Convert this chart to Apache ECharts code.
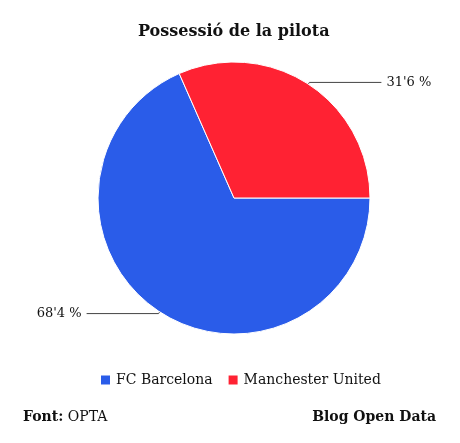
<!DOCTYPE html>
<html>
<head>
<meta charset="utf-8">
<script src="https://cdn.jsdelivr.net/npm/echarts@6/dist/echarts.min.js"></script>
<style>
  html, body { margin: 0; padding: 0; background: #fff; }
  #chart { width: 460px; height: 443px; }
</style>
</head>
<body>
<div id="chart"></div>
<script>
// Possessió de la pilota (OPTA)
const teams = ['FC Barcelona', 'Manchester United'];
const possession = [68.4, 31.6];
const teamColors = ['#2a5ce9', '#ff2233'];

const serif = 'DejaVu Serif, Georgia, serif';

let chart = echarts.init(document.getElementById('chart'));

chart.setOption({
  color: teamColors,
  title: {
    text: 'Possessió de la pilota',
    left: 133,
    top: 19,
    textStyle: {
      fontFamily: serif,
      fontSize: 16,
      fontWeight: 'bold',
      color: '#111'
    }
  },
  legend: {
    bottom: 51,
    left: 94,
    itemWidth: 11,
    itemHeight: 11,
    itemGap: 14,
    icon: 'rect',
    textStyle: {
      fontFamily: serif,
      fontSize: 14,
      color: '#111'
    }
  },
  graphic: [
    {
      type: 'text',
      left: 23,
      top: 410,
      style: {
        text: '{b|Font:} OPTA',
        fontFamily: serif,
        fontSize: 14,
        fill: '#111',
        rich: { b: { fontFamily: serif, fontSize: 14, fontWeight: 'bold', fill: '#111' } }
      }
    },
    {
      type: 'text',
      right: 24,
      top: 410,
      style: {
        text: 'Blog Open Data',
        fontFamily: serif,
        fontSize: 14,
        fontWeight: 'bold',
        fill: '#111'
      }
    }
  ],
  series: [
    {
      name: 'Possessió',
      type: 'pie',
      center: [234, 198],
      radius: 136,
      startAngle: 0,
      clockwise: true,
      animation: false,
      itemStyle: {
        borderColor: '#fff',
        borderWidth: 1
      },
      label: {
        fontFamily: serif,
        fontSize: 13,
        color: '#111',
        formatter: p => String(p.value).replace('.', "'") + ' %'
      },
      labelLine: {
        length: 2,
        length2: 72,
        lineStyle: { color: '#444', width: 1 }
      },
      emphasis: { disabled: true },
      data: teams.map((t, i) => ({ name: t, value: possession[i] }))
    }
  ]
});
</script>
</body>
</html>
